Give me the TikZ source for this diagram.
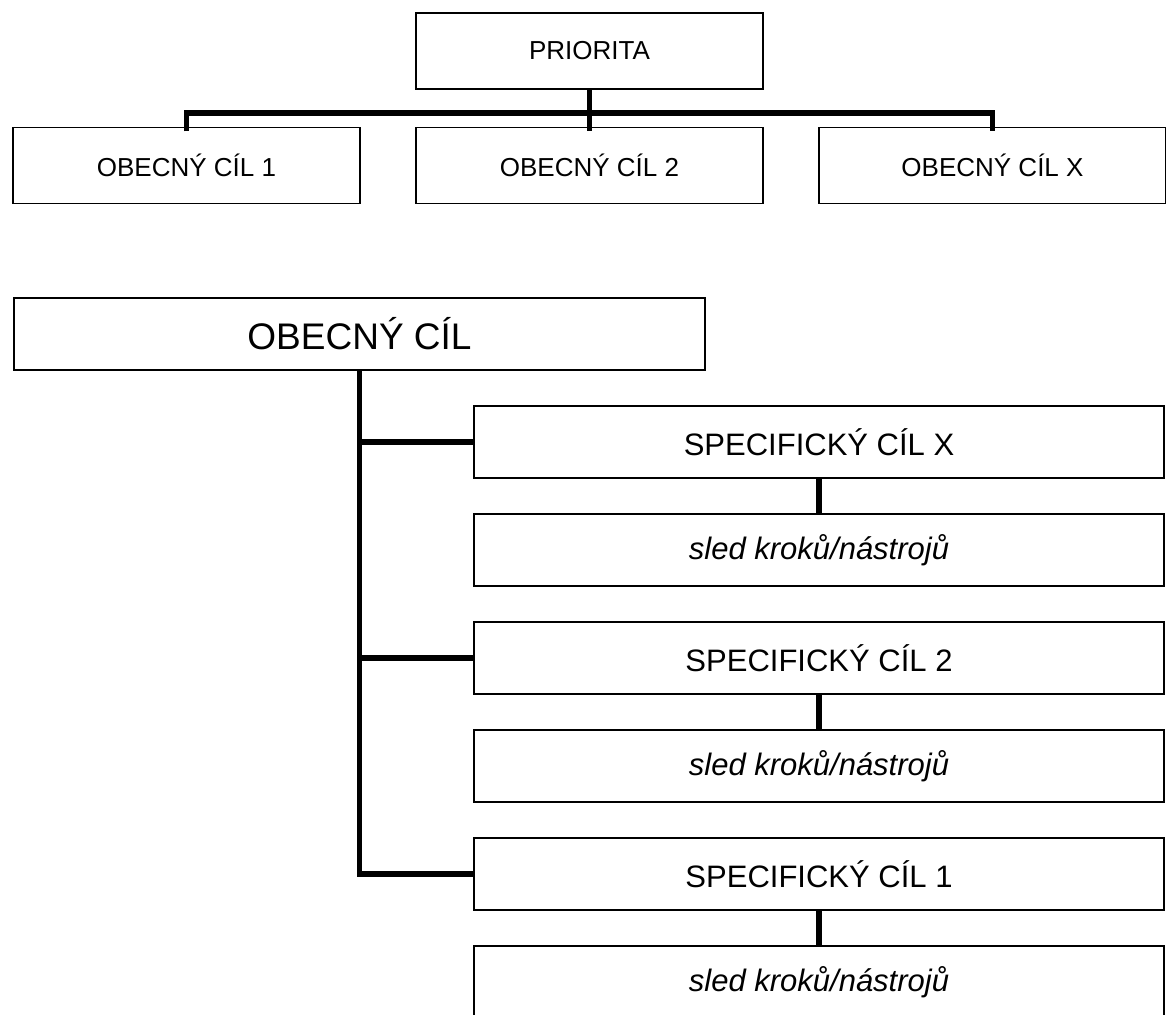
\documentclass[tikz,border=0pt]{standalone}
\usepackage{fontspec}
\setmainfont{Liberation Sans}
\usetikzlibrary{positioning}
\tikzstyle{b} = [draw, rectangle, line width=0.9pt, inner sep=0pt, outer sep=0pt, minimum height=36pt]

\begin{document}
\begin{tikzpicture}[x=0.5pt,y=-0.5pt,
			small/.style={b, minimum width=173.5pt, minimum height=38pt, font=\fontsize{13}{15}\selectfont},
			big/.style={b, minimum width=345.5pt, font=\fontsize{18.5}{22}\selectfont},
			spec/.style={b, minimum width=345pt, font=\fontsize{15.5}{18}\selectfont},
			conn/.style={line width=2.8pt},
			level distance=57.25pt,
			sibling distance=201.5pt,
			edge from parent/.style={draw=none}]
			\useasboundingbox (0,0) rectangle (1166,1015);
			\clip (0,0) rectangle (1166,1015);
			% priorita a obecne cile
			\node (prio)[small] at (589.5,51) {PRIORITA}
			child {node (c1)[small]{OBECNÝ CÍL 1}}
			child {node (c2)[small]{OBECNÝ CÍL 2}}
			child {node (c3)[small]{OBECNÝ CÍL X}};
			
			\coordinate (bar) at (589.5,113);
			\draw[conn] (prio.south) -- ([yshift=-2pt]c2.north);
			\draw[conn] ([yshift=-2pt]c1.north) |- (bar) -| ([yshift=-2pt]c3.north);
			
			% obecny cil a specificke cile
			\node (gen)[big] at (359.5,334) {OBECNÝ CÍL};
			\node (spx)[spec] at (819,442) {SPECIFICKÝ CÍL X};
			\node (slx)[spec, below=18pt of spx] {\itshape sled kroků/nástrojů};
			\node (sp2)[spec, below=18pt of slx] {SPECIFICKÝ CÍL 2};
			\node (sl2)[spec, below=18pt of sp2] {\itshape sled kroků/nástrojů};
			\node (sp1)[spec, below=18pt of sl2] {SPECIFICKÝ CÍL 1};
			\node (sl1)[spec, below=18pt of sp1] {\itshape sled kroků/nástrojů};
			
			\draw[conn] (gen.south) |- (spx.west);
			\draw[conn] (gen.south) |- (sp2.west);
			\draw[conn] (gen.south) |- (sp1.west);
			\draw[conn] (spx.south) -- (slx.north);
			\draw[conn] (sp2.south) -- (sl2.north);
			\draw[conn] (sp1.south) -- (sl1.north);
		\end{tikzpicture}
\end{document}
